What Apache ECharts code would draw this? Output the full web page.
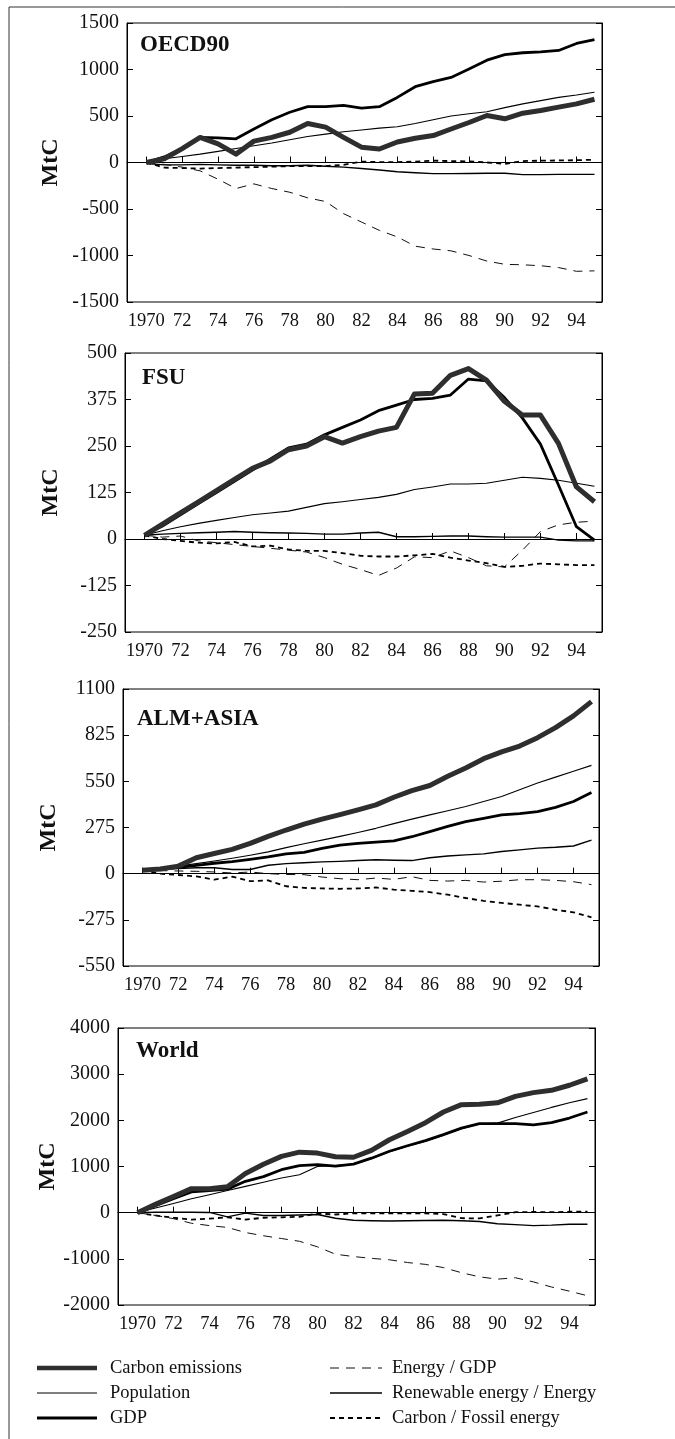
<!DOCTYPE html>
<html>
<head>
<meta charset="utf-8">
<script src="https://cdn.jsdelivr.net/npm/echarts@6/dist/echarts.min.js"></script>
<style>
  html, body { margin: 0; padding: 0; background: #fff; }
  #chart { width: 675px; height: 1439px; }
</style>
</head>
<body>
<div id="chart"></div>
<script>
// years and tick labels
const years = [1970,1971,1972,1973,1974,1975,1976,1977,1978,1979,1980,1981,1982,1983,1984,1985,1986,1987,1988,1989,1990,1991,1992,1993,1994,1995];
const tickYears = [1970,1972,1974,1976,1978,1980,1982,1984,1986,1988,1990,1992,1994];
const seriesNames = ['Carbon emissions','Population','GDP','Energy / GDP','Renewable energy / Energy','Carbon / Fossil energy'];

// OECD90 (MtC)
const oecdCarbon     = [0,40,150,270,200,90,230,270,325,420,380,270,165,145,220,260,290,360,430,505,470,530,560,595,630,680];
const oecdPopulation = [0,40,65,90,120,150,180,210,245,280,305,330,350,370,385,420,460,500,525,545,590,630,665,700,725,755];
const oecdGdp        = [0,60,150,270,265,255,360,460,540,600,600,615,585,600,700,815,870,915,1005,1100,1160,1180,1190,1205,1280,1320];
const oecdEnergyGdp  = [0,-20,-50,-90,-180,-280,-230,-280,-320,-380,-420,-550,-640,-730,-800,-900,-930,-950,-1000,-1060,-1095,-1100,-1110,-1130,-1170,-1165];
const oecdRenewable  = [-10,-25,-25,-20,-25,-30,-30,-35,-35,-30,-40,-50,-65,-80,-100,-110,-120,-120,-118,-115,-115,-130,-130,-128,-128,-128];
const oecdCarbonFossil = [0,-55,-60,-65,-60,-55,-50,-45,-40,-38,-38,-25,10,5,5,10,20,15,12,0,-15,15,20,22,25,30];

// FSU
const fsuCarbon     = [10,40,70,100,130,160,190,210,240,250,275,258,275,290,300,390,392,440,458,427,370,333,333,257,140,100];
const fsuPopulation = [10,22,33,42,50,58,65,70,75,85,95,100,106,112,120,133,140,148,148,150,158,166,163,158,150,142];
const fsuGdp        = [10,35,65,95,125,155,185,215,245,255,280,300,320,345,360,375,378,387,430,425,380,325,255,145,33,-3];
const fsuEnergyGdp  = [10,5,8,-5,-10,-15,-20,-25,-30,-35,-50,-68,-82,-98,-78,-48,-50,-32,-50,-72,-75,-30,20,38,45,48];
const fsuRenewable  = [10,13,15,17,18,20,18,17,16,15,13,13,16,18,6,6,7,8,8,6,5,5,5,-3,-5,-5];
const fsuCarbonFossil = [10,0,-5,-10,-12,-8,-20,-18,-28,-32,-32,-38,-45,-47,-47,-44,-40,-50,-58,-65,-75,-72,-66,-68,-70,-70];

// ALM+ASIA
const almCarbon     = [20,28,45,95,120,145,180,222,260,295,325,352,380,410,455,495,525,580,630,685,725,760,810,870,940,1025];
const almPopulation = [20,30,45,60,75,92,110,130,155,178,200,222,245,270,298,325,350,375,400,430,460,500,540,575,610,645];
const almGdp        = [20,28,38,50,62,72,85,100,118,127,150,170,180,188,195,220,250,282,310,330,350,358,370,395,430,484];
const almEnergyGdp  = [20,18,16,14,10,4,10,0,-5,-6,-20,-30,-36,-26,-34,-18,-40,-44,-40,-50,-45,-36,-36,-40,-48,-65];
const almRenewable  = [20,25,30,35,35,25,25,50,60,65,70,73,78,83,80,78,95,105,112,118,132,142,152,157,165,200];
const almCarbonFossil = [20,0,-8,-16,-36,-18,-45,-40,-75,-85,-88,-90,-88,-82,-95,-102,-110,-125,-145,-162,-174,-185,-195,-215,-230,-260];

// World
const worldCarbon     = [0,180,350,520,520,560,850,1050,1220,1310,1290,1210,1200,1350,1580,1760,1950,2180,2340,2350,2380,2520,2600,2650,2760,2900];
const worldPopulation = [0,100,200,300,390,480,570,660,750,820,1000,1020,1050,1170,1320,1440,1550,1680,1820,1920,1940,2060,2170,2280,2380,2470];
const worldGdp        = [0,150,300,450,480,510,680,780,930,1020,1040,1010,1050,1180,1330,1450,1560,1690,1830,1930,1930,1930,1900,1950,2050,2180];
const worldEnergyGdp  = [0,-60,-130,-230,-280,-320,-430,-500,-560,-620,-740,-900,-950,-990,-1020,-1080,-1120,-1190,-1300,-1390,-1440,-1410,-1500,-1610,-1700,-1800];
const worldRenewable  = [0,10,10,10,5,-90,-10,-60,-60,-50,-40,-120,-165,-175,-180,-175,-170,-165,-175,-190,-240,-260,-280,-270,-250,-250];
const worldCarbonFossil = [0,-60,-110,-150,-130,-100,-150,-110,-100,-90,-20,-40,-15,-15,-15,-15,-15,-30,-120,-125,-60,10,15,10,20,20];

// y axis scales per panel
const yMins = [-1500, -250, -550, -2000];
const yMaxs = [1500, 500, 1100, 4000];
const yIntervals = [500, 125, 275, 1000];

const panels = [
  { name: 'OECD90',   data: [oecdCarbon, oecdPopulation, oecdGdp, oecdEnergyGdp, oecdRenewable, oecdCarbonFossil] },
  { name: 'FSU',      data: [fsuCarbon, fsuPopulation, fsuGdp, fsuEnergyGdp, fsuRenewable, fsuCarbonFossil] },
  { name: 'ALM+ASIA', data: [almCarbon, almPopulation, almGdp, almEnergyGdp, almRenewable, almCarbonFossil] },
  { name: 'World',    data: [worldCarbon, worldPopulation, worldGdp, worldEnergyGdp, worldRenewable, worldCarbonFossil] }
];

// layout
const grids = [
  { left: 127, top: 23,   width: 475, height: 279 },
  { left: 125, top: 353,  width: 477, height: 279 },
  { left: 123, top: 689,  width: 476, height: 277 },
  { left: 118, top: 1028, width: 477, height: 277 }
];
const titlePos = [[140, 34], [142, 367], [137, 708], [136, 1040]];
const nameGaps = [64, 62, 62, 58];

const FONT = '"Liberation Serif", "Times New Roman", serif';
const INK = '#000';
const lineStyles = [
  { color: '#2e2e2e', width: 5, type: 'solid' },
  { color: INK, width: 1.1, type: 'solid' },
  { color: INK, width: 2.8, type: 'solid' },
  { color: '#111', width: 1, type: [9, 7] },
  { color: INK, width: 1.4, type: 'solid' },
  { color: INK, width: 1.8, type: [5, 4] }
];
const drawOrder = [4, 5, 3, 1, 2, 0];

const myChart = echarts.init(document.getElementById('chart'), null, { renderer: 'canvas' });

const xAxes = [], yAxes = [], series = [], titles = [];
panels.forEach((p, i) => {
  xAxes.push({
    type: 'value', gridIndex: i, min: 1968.92, max: 1995.42,
    axisLine: { show: true, lineStyle: { color: INK, width: 1 } },
    axisTick: { show: true, inside: true, length: 6, customValues: tickYears, lineStyle: { color: INK } },
    axisLabel: {
      customValues: tickYears, margin: 10, fontSize: 18.5, color: '#111', fontFamily: FONT,
      formatter: v => (v === 1970 ? '1970' : String(v).slice(2))
    },
    splitLine: { show: false }
  });
  const yBase = {
    type: 'value', gridIndex: i, min: yMins[i], max: yMaxs[i], interval: yIntervals[i],
    axisLine: { show: true, lineStyle: { color: INK, width: 1 } },
    axisTick: { show: true, inside: true, length: 6, lineStyle: { color: INK } },
    splitLine: { show: false }
  };
  yAxes.push(Object.assign({}, yBase, {
    position: 'left',
    axisLabel: { margin: 8, fontSize: 20, color: '#111', fontFamily: FONT, formatter: v => String(v) },
    name: 'MtC', nameLocation: 'middle', nameGap: nameGaps[i], nameMoveOverlap: false,
    nameTextStyle: { fontFamily: FONT, fontWeight: 'bold', fontSize: 24, color: '#111' }
  }));
  yAxes.push(Object.assign({}, yBase, { position: 'right', axisLabel: { show: false } }));
  titles.push({
    text: p.name, left: titlePos[i][0], top: titlePos[i][1], padding: 0,
    textStyle: { fontFamily: FONT, fontWeight: 'bold', fontSize: 23, color: '#111' }
  });
  drawOrder.forEach((k, z) => {
    series.push({
      name: seriesNames[k], type: 'line', xAxisIndex: i, yAxisIndex: 2 * i,
      data: years.map((yr, j) => [yr, p.data[k][j]]),
      symbol: 'none', silent: true, z: 2 + z,
      lineStyle: Object.assign({ join: 'round', cap: 'butt' }, lineStyles[k])
    });
  });
});

// legend built as graphics from the series styles
const legendRows = [1368, 1393, 1418];
const legendGraphics = [];
seriesNames.forEach((nm, k) => {
  const col = k < 3 ? 0 : 1;
  const row = k % 3;
  const x1 = col === 0 ? 37 : 330;
  const x2 = col === 0 ? 97 : 382;
  const tx = col === 0 ? 110 : 392;
  const y = legendRows[row];
  const ls = lineStyles[k];
  legendGraphics.push({
    type: 'line', shape: { x1: x1, y1: y, x2: x2, y2: y },
    style: { stroke: ls.color, lineWidth: k === 0 ? 4.5 : ls.width, lineDash: Array.isArray(ls.type) ? ls.type : null }
  });
  legendGraphics.push({
    type: 'text', x: tx, y: y,
    style: { text: nm, font: '18.5px ' + FONT, fill: '#111', verticalAlign: 'middle' }
  });
});

myChart.setOption({
  animation: false,
  backgroundColor: '#fff',
  title: titles,
  grid: grids.map(g => Object.assign({ show: true, borderColor: INK, borderWidth: 1, containLabel: false }, g)),
  xAxis: xAxes,
  yAxis: yAxes,
  series: series,
  graphic: [
    { type: 'rect', shape: { x: 9, y: 7, width: 700, height: 1500 }, style: { fill: 'none', stroke: '#333', lineWidth: 1 }, silent: true }
  ].concat(legendGraphics)
});
</script>
</body>
</html>
